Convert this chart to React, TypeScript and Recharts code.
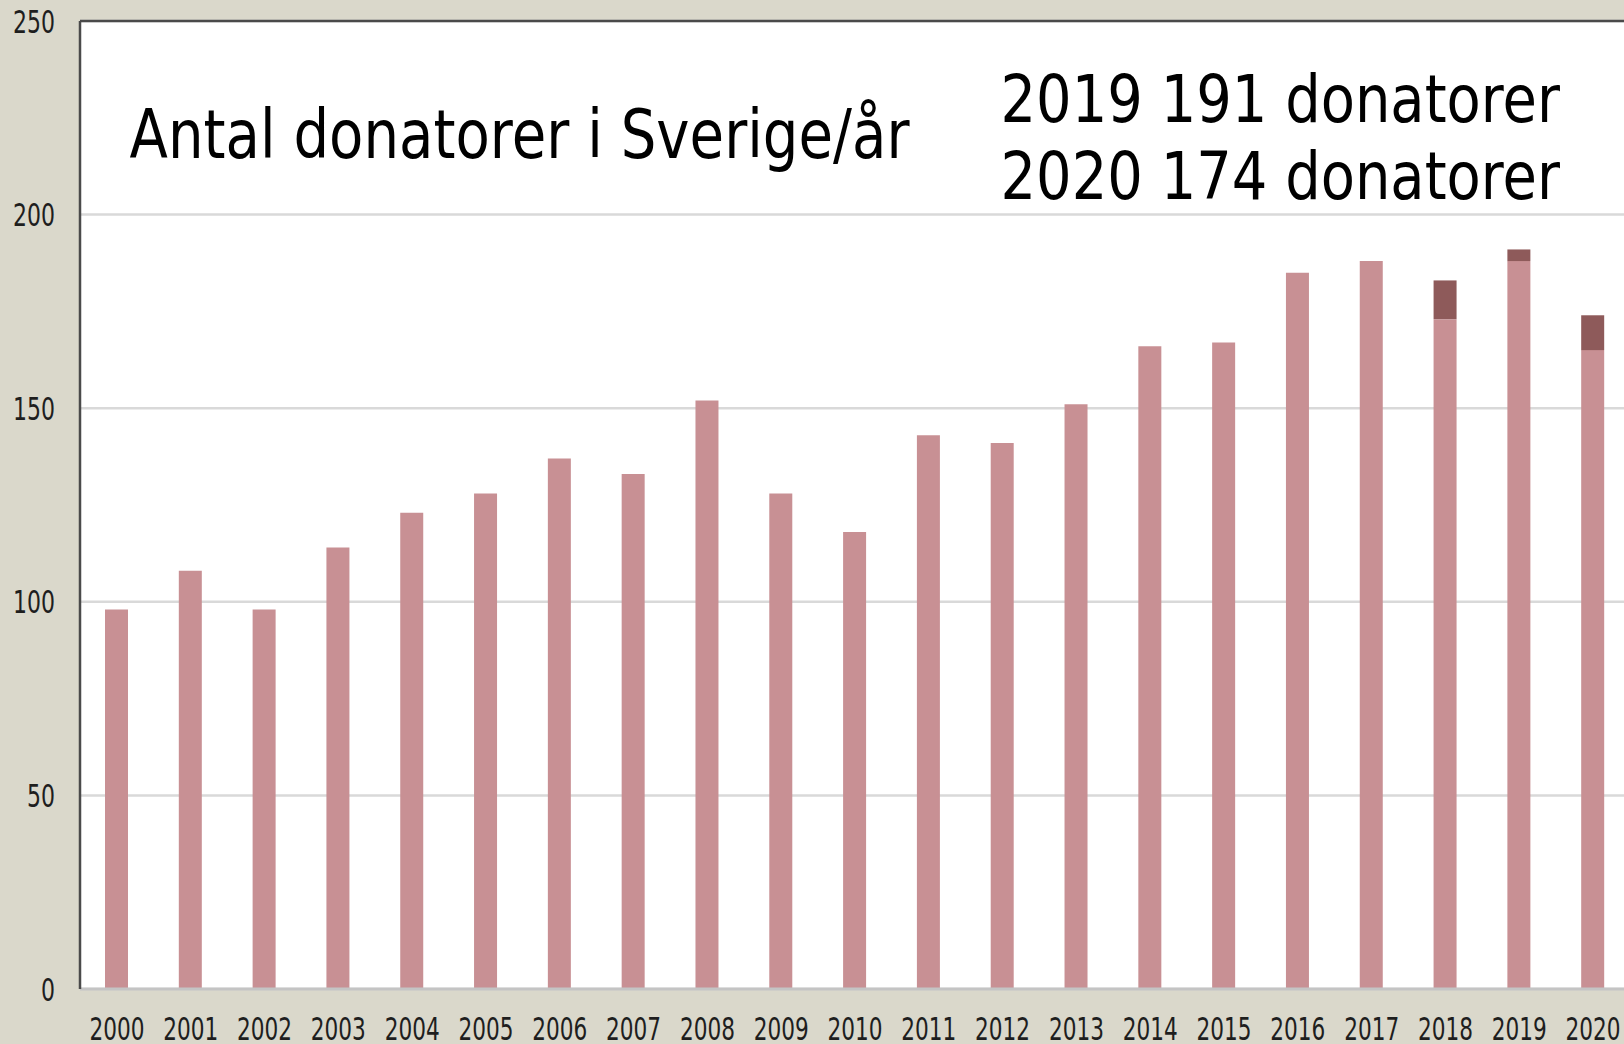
import { BarChart, Bar, XAxis, YAxis, CartesianGrid, ReferenceLine } from 'recharts';

const years = [
  '2000', '2001', '2002', '2003', '2004', '2005', '2006', '2007', '2008', '2009', '2010',
  '2011', '2012', '2013', '2014', '2015', '2016', '2017', '2018', '2019', '2020',
];
const baseDonors = [98, 108, 98, 114, 123, 128, 137, 133, 152, 128, 118, 143, 141, 151, 166, 167, 185, 188, 173, 188, 165];
const extraDonors = [0, 0, 0, 0, 0, 0, 0, 0, 0, 0, 0, 0, 0, 0, 0, 0, 0, 0, 10, 3, 9];
const yTicks = [0, 50, 100, 150, 200, 250];
const titleText = 'Antal donatorer i Sverige/år';
const noteLines = ['2019 191 donatorer', '2020 174 donatorer'];

const data = years.map((year, i) => ({ year, base: baseDonors[i], extra: extraDonors[i] }));

const FONT = '"DejaVu Sans", Tahoma, sans-serif';

function XTick(props: any) {
  const { x, y, payload } = props;
  return (
    <text x={x} y={y + 51} textAnchor="middle" fontFamily={FONT} fontSize={32} fill="#1e1e1e"
      textLength={55} lengthAdjust="spacingAndGlyphs">
      {payload.value}
    </text>
  );
}

function YTick(props: any) {
  const { x, y, payload } = props;
  const label = String(payload.value);
  return (
    <text x={x - 25} y={y + 11.5} textAnchor="end" fontFamily={FONT} fontSize={32} fill="#1e1e1e"
      textLength={label.length * 14} lengthAdjust="spacingAndGlyphs">
      {label}
    </text>
  );
}

export default function App() {
  return (
    <div style={{ position: 'absolute', left: 0, top: 0, width: 1624, height: 1044, overflow: 'hidden', background: '#dad8cb' }}>
      <BarChart width={1630} height={1044} data={data} margin={{ top: 21, right: 0, left: 0, bottom: 0 }} barSize={23}>
        <CartesianGrid vertical={false} stroke="#d9d9d9" strokeWidth={2.5} fill="#ffffff" />
        <XAxis dataKey="year" height={55} tickSize={0} tickMargin={0} tickLine={false}
          axisLine={{ stroke: '#c4c4c4', strokeWidth: 3 }} tick={<XTick />} interval={0} />
        <YAxis domain={[0, 250]} ticks={yTicks} width={80} tickSize={0} tickMargin={0} tickLine={false}
          axisLine={{ stroke: '#4a4a4a', strokeWidth: 2.5 }} tick={<YTick />} />
        <ReferenceLine y={250} stroke="#4a4a4a" strokeWidth={2.5} />
        <Bar dataKey="base" stackId="a" fill="#c89094" isAnimationActive={false} />
        <Bar dataKey="extra" stackId="a" fill="#8e5a5a" isAnimationActive={false} />
      </BarChart>
      <svg width={1624} height={1044} style={{ position: 'absolute', left: 0, top: 0, pointerEvents: 'none' }}>
        <text x={129.5} y={157.5} fontFamily={FONT} fontSize={67} fill="#000"
          textLength={780} lengthAdjust="spacingAndGlyphs">{titleText}</text>
        <text x={1000.5} y={122} fontFamily={FONT} fontSize={65} fill="#000"
          textLength={559.5} lengthAdjust="spacingAndGlyphs">{noteLines[0]}</text>
        <text x={1000.5} y={199} fontFamily={FONT} fontSize={65} fill="#000"
          textLength={559.5} lengthAdjust="spacingAndGlyphs">{noteLines[1]}</text>
      </svg>
    </div>
  );
}
